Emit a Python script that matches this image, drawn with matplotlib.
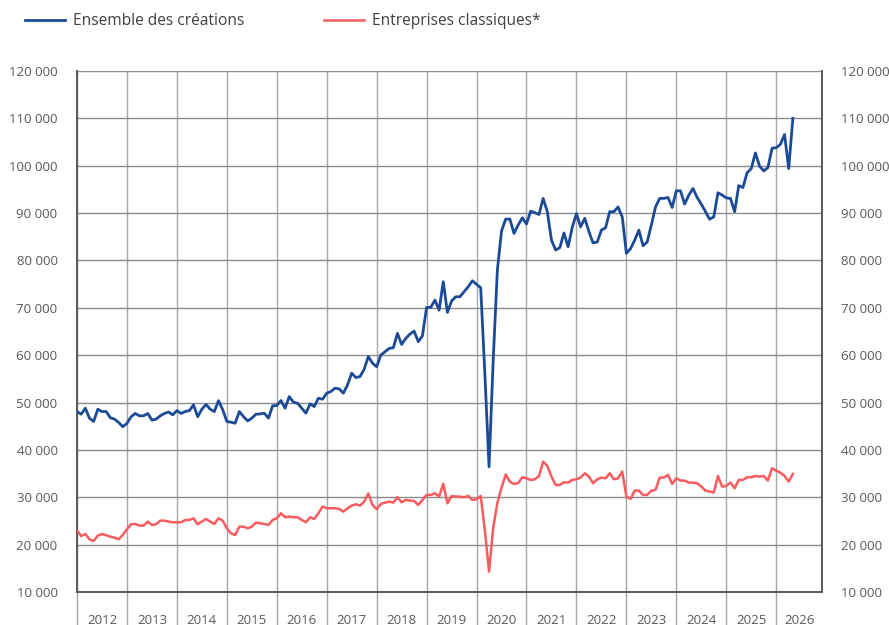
import matplotlib
matplotlib.use("Agg")
import matplotlib.pyplot as plt
from matplotlib.ticker import FixedLocator, FuncFormatter, NullFormatter
import numpy as np

plt.rcParams['font.family'] = ['Open Sans', 'DejaVu Sans']

years = [str(y) for y in range(2012, 2027)]
series_names = ["Ensemble des créations", "Entreprises classiques*"]

# Monthly values, Jan 2012 .. May 2026
ensemble = [
    # 2012
    48100, 47540, 48800, 46700, 46000, 48600, 48100, 48100, 46800, 46500, 45800, 44900,
    # 2013
    45600, 47000, 47700, 47200, 47200, 47700, 46300, 46500, 47200, 47700, 48000, 47400,
    # 2014
    48300, 47700, 48100, 48300, 49500, 47000, 48600, 49600, 48600, 48100, 50400, 48500,
    # 2015
    46000, 45850, 45630, 48100, 47040, 46130, 46700, 47540, 47600, 47750, 46700, 49300,
    # 2016
    49370, 50420, 48800, 51270, 50070, 49860, 48800, 47750, 49720, 49150, 50920, 50700,
    # 2017
    51970, 52320, 53030, 52890, 51970, 53730, 56200, 55280, 55490, 57040, 59720, 58300,
    # 2018
    57560, 60020, 60720, 61430, 61570, 64600, 62270, 63540, 64460, 65090, 62840, 64100,
    # 2019
    70090, 70090, 71640, 69520, 75510, 69030, 71430, 72340, 72340, 73400, 74450, 75720,
    # 2020
    74950, 74240, 56000, 36440, 58960, 77970, 86200, 88740, 88740, 85710, 87500, 89000,
    # 2021
    87700, 90400, 90100, 89700, 93100, 90300, 84300, 82200, 82700, 85800, 82900, 87000,
    # 2022
    89900, 87100, 88900, 86100, 83700, 83900, 86400, 86900, 90300, 90300, 91300, 89200,
    # 2023
    81500, 82500, 84300, 86400, 83100, 83900, 87500, 91300, 93100, 93100, 93300, 91200,
    # 2024
    94700, 94700, 91900, 93800, 95200, 93300, 91900, 90300, 88700, 89200, 94300, 93800,
    # 2025
    93200, 93100, 90300, 95800, 95400, 98500, 99400, 102700, 99900, 98900, 99600, 103700,
    # 2026
    103800, 104500, 106600, 99400, 110000,
]

classiques = [
    # 2012
    22960, 21830, 22250, 21130, 20780, 21900, 22250, 21970, 21700, 21480, 21130, 22050,
    # 2013
    23240, 24300, 24370, 24020, 24020, 24860, 24160, 24300, 25070, 25070, 24860, 24720,
    # 2014
    24720, 24720, 25200, 25200, 25560, 24300, 24860, 25420, 24860, 24370, 25560, 25070,
    # 2015
    23450, 22400, 22040, 23800, 23800, 23450, 23800, 24650, 24510, 24370, 24160, 25210,
    # 2016
    25560, 26620, 25780, 25920, 25780, 25780, 25210, 24720, 25780, 25420, 26620, 28030,
    # 2017
    27680, 27680, 27680, 27540, 26970, 27680, 28240, 28520, 28240, 29080, 30800, 28380,
    # 2018
    27470, 28590, 28870, 29080, 28870, 30000, 28940, 29440, 29300, 29230, 28380, 29440,
    # 2019
    30490, 30490, 30840, 30140, 32820, 28730, 30280, 30140, 30140, 30000, 30280, 29440,
    # 2020
    29580, 30280, 23000, 14300, 23600, 28800, 32000, 34800, 33300, 32800, 33000, 34220,
    # 2021
    34010, 33660, 33800, 34500, 37530, 36620, 34360, 32600, 32600, 33170, 33100, 33660,
    # 2022
    33800, 34150, 35070, 34360, 32960, 33800, 34150, 34010, 35070, 33800, 34010, 35420,
    # 2023
    30140, 29650, 31410, 31410, 30490, 30490, 31410, 31550, 34150, 34150, 34720, 32820,
    # 2024
    34010, 33520, 33520, 33100, 33100, 32960, 32250, 31410, 31200, 30990, 34500, 32250,
    # 2025
    32390, 33100, 31900, 33660, 33660, 34220, 34220, 34500, 34360, 34500, 33520, 36120,
    # 2026
    35630, 35210, 34500, 33310, 34930,
]

y_ticks = list(range(10000, 120001, 10000))

BLUE = "#1B4A97"
RED = "#F95B5E"
LABEL = "#595959"

fig = plt.figure(figsize=(8.89, 6.25), dpi=100)
ax = fig.add_axes([77 / 889, 1 - 592 / 625, (822 - 77) / 889, (592 - 71) / 625])

x = np.arange(len(ensemble))
ax.plot(x, ensemble, color=BLUE, lw=2.0, label=series_names[0], zorder=3,
        solid_joinstyle='round')
ax.plot(np.arange(len(classiques)), classiques, color=RED, lw=1.8,
        label=series_names[1], zorder=3, solid_joinstyle='round')

ax.set_xlim(0, 179)
ax.set_ylim(10000, 120000)

# Year boundaries (major) and year labels (minor, centered)
bounds = [12 * i for i in range(len(years))]
centers = [min(12 * i + 6, (12 * i + 179) / 2) for i in range(len(years))]
ax.xaxis.set_major_locator(FixedLocator(bounds))
ax.xaxis.set_major_formatter(NullFormatter())
ax.xaxis.set_minor_locator(FixedLocator(centers))
ax.set_xticklabels(years, minor=True)
ax.tick_params(axis='x', which='major', length=30, width=1.0, color="#a6a6a6",
               direction='out')
ax.tick_params(axis='x', which='minor', length=0, pad=16, labelsize=9.5,
               labelcolor=LABEL)

ax.yaxis.set_major_locator(FixedLocator(y_ticks))
fmt = FuncFormatter(lambda v, p: f"{int(v):,}".replace(",", " "))
ax.yaxis.set_major_formatter(fmt)
ax.tick_params(axis='y', which='major', length=0, pad=14, labelsize=9.5,
               labelcolor=LABEL, labelright=True, right=False)

ax.grid(axis='y', color="#8c8c8c", lw=1.0, zorder=1)
ax.grid(axis='x', which='major', color="#a6a6a6", lw=1.0, zorder=1)
ax.set_axisbelow(True)

for side in ('left', 'bottom', 'right'):
    ax.spines[side].set_color("#595959")
    ax.spines[side].set_linewidth(1.4)
ax.spines['top'].set_visible(False)

fig.legend(loc='center left', bbox_to_anchor=(25 / 889, 1 - 21 / 625), ncol=2,
           frameon=False, fontsize=11.2, handlelength=2.6, handletextpad=0.5,
           columnspacing=5.1, borderpad=0, borderaxespad=0,
           labelcolor="#404040")

fig.savefig("out.png", dpi=100)
